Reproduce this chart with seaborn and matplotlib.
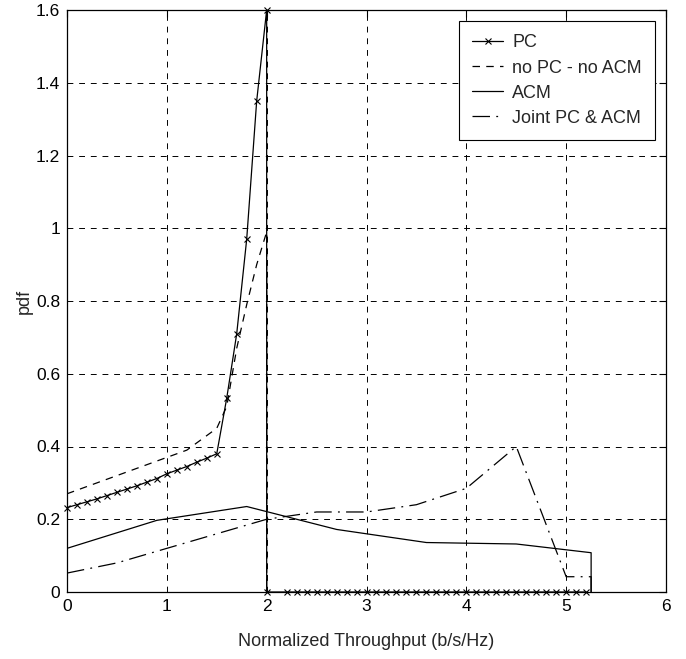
import numpy as np
import pandas as pd
import matplotlib
matplotlib.use("Agg")
import matplotlib.pyplot as plt
import seaborn as sns

# ---- data ----
pc_x = [0.0, 0.1, 0.2, 0.3, 0.4, 0.5, 0.6, 0.7, 0.8, 0.9, 1.0, 1.1, 1.2, 1.3, 1.4, 1.5,
        1.6, 1.7, 1.8, 1.9, 2.0,
        2.0, 2.2, 2.3, 2.4, 2.5, 2.6, 2.7, 2.8, 2.9, 3.0, 3.1, 3.2, 3.3, 3.4, 3.5, 3.6,
        3.7, 3.8, 3.9, 4.0, 4.1, 4.2, 4.3, 4.4, 4.5, 4.6, 4.7, 4.8, 4.9, 5.0, 5.1, 5.2]
pc_y = [0.232, 0.240, 0.248, 0.256, 0.265, 0.274, 0.283, 0.292, 0.302, 0.312, 0.325,
        0.335, 0.345, 0.357, 0.368, 0.380,
        0.533, 0.710, 0.970, 1.350, 1.600,
        0, 0, 0, 0, 0, 0, 0, 0, 0, 0, 0, 0, 0, 0, 0, 0,
        0, 0, 0, 0, 0, 0, 0, 0, 0, 0, 0, 0, 0, 0, 0, 0]

nopc_x = [0.0, 0.3, 0.6, 0.9, 1.2, 1.5, 1.6, 1.7, 1.8, 1.9, 2.0, 2.0]
nopc_y = [0.270, 0.300, 0.330, 0.360, 0.390, 0.450, 0.510, 0.670, 0.790, 0.900, 0.990, 0.0]

acm_x = [0.0, 0.9, 1.8, 2.7, 3.6, 4.5, 5.25, 5.25]
acm_y = [0.120, 0.197, 0.235, 0.172, 0.136, 0.132, 0.108, 0.0]

joint_x = [0.0, 0.5, 1.0, 1.5, 2.0, 2.5, 3.0, 3.5, 4.0, 4.5, 5.0, 5.25, 5.25]
joint_y = [0.052, 0.080, 0.120, 0.160, 0.200, 0.220, 0.220, 0.240, 0.285, 0.400,
           0.042, 0.042, 0.0]

x_ticks = [0, 1, 2, 3, 4, 5, 6]
y_ticks = [0, 0.2, 0.4, 0.6, 0.8, 1.0, 1.2, 1.4, 1.6]
y_ticklabels = ["0", "0.2", "0.4", "0.6", "0.8", "1", "1.2", "1.4", "1.6"]

sns.set_style("white")
plt.rcParams["font.family"] = ["Liberation Sans", "DejaVu Sans"]

fig = plt.figure(figsize=(6.86, 6.59), dpi=100)
ax = fig.add_axes([67 / 686, 67 / 659, 599 / 686, 582 / 659])

lw = 0.9
sns.lineplot(x=pc_x, y=pc_y, ax=ax, color="k", lw=lw, marker="x", markersize=5,
             markeredgewidth=0.8, markeredgecolor="k", sort=False, estimator=None,
             label="PC", clip_on=False, zorder=4)
sns.lineplot(x=nopc_x, y=nopc_y, ax=ax, color="k", lw=lw, linestyle=(0, (6, 5)),
             sort=False, estimator=None, label="no PC - no ACM")
sns.lineplot(x=acm_x, y=acm_y, ax=ax, color="k", lw=lw,
             sort=False, estimator=None, label="ACM")
sns.lineplot(x=joint_x, y=joint_y, ax=ax, color="k", lw=lw, linestyle=(0, (14, 5, 1.5, 5)),
             sort=False, estimator=None, label="Joint PC & ACM")

ax.set_xlim(0, 6)
ax.set_ylim(0, 1.6)
ax.set_xticks(x_ticks)
ax.set_yticks(y_ticks)
ax.set_yticklabels(y_ticklabels)
ax.tick_params(direction="in", length=5, width=0.8, labelsize=12.5, top=True, right=True,
               colors="k", pad=5)
ax.grid(True, color="k", linestyle=(0, (6, 6)), linewidth=0.7)
for s in ax.spines.values():
    s.set_color("k")
    s.set_linewidth(0.9)
    s.set_zorder(3)
ax.set_xlabel("Normalized Throughput (b/s/Hz)", fontsize=13, labelpad=14)
ax.set_ylabel("pdf", fontsize=13, labelpad=2)

leg = ax.legend(loc="upper right", fontsize=13, frameon=True, fancybox=False,
                framealpha=1, edgecolor="k", handlelength=1.7, handletextpad=0.5,
                labelspacing=0.45, borderpad=0.75, borderaxespad=0.6)
leg.get_frame().set_linewidth(0.8)
leg.set_zorder(5)

fig.savefig("out.png", dpi=100, facecolor="white")
